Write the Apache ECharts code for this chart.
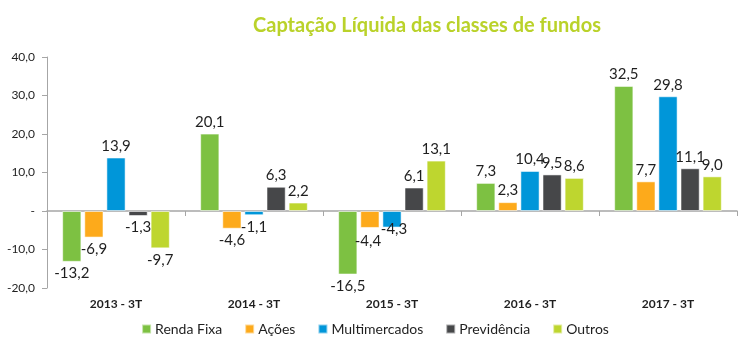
<!DOCTYPE html>
<html><head><meta charset="utf-8">
<script src="https://cdn.jsdelivr.net/npm/echarts@6/dist/echarts.min.js"></script>
<style>html,body{margin:0;padding:0;background:#fff}#c{width:750px;height:350px}</style>
</head><body><div id="c"></div>
<script>
const categories = ['2013 - 3T', '2014 - 3T', '2015 - 3T', '2016 - 3T', '2017 - 3T'];
const rendaFixa = [-13.2, 20.1, -16.5, 7.3, 32.5];
const acoes = [-6.9, -4.6, -4.4, 2.3, 7.7];
const multimercados = [13.9, -1.1, -4.3, 10.4, 29.8];
const previdencia = [-1.3, 6.3, 6.1, 9.5, 11.1];
const outros = [-9.7, 2.2, 13.1, 8.6, 9.0];
const seriesNames = ['Renda Fixa', 'Ações', 'Multimercados', 'Previdência', 'Outros'];
const seriesValues = [rendaFixa, acoes, multimercados, previdencia, outros];
const colors = ['#7DC142', '#FDAA1B', '#0096D9', '#464749', '#BED62F'];
// manual label nudges (series index -> category index -> [dx, dy]), as in the original
const labelNudges = { 2: { 2: [2, -10] }, 1: { 2: [-2, 2] } };
const FONT = 'Lato';
const fmt = v => Number(v).toFixed(1).replace('.', ',');

const chart = echarts.init(document.getElementById('c'));
chart.setOption({
  animation: false,
  textStyle: { fontFamily: FONT },
  title: {
    text: 'Captação Líquida das classes de fundos',
    left: 422, top: 11, textAlign: 'center',
    textStyle: { color: '#BAD22A', fontSize: 20, fontWeight: 'bold', fontFamily: FONT }
  },
  legend: {
    bottom: 9, left: 'center', itemWidth: 9, itemHeight: 9, itemGap: 22,
    icon: 'rect',
    textStyle: { fontSize: 14, color: '#1f1f1f', fontFamily: FONT, padding: [0, 0, 0, -1] },
    data: seriesNames
  },
  grid: { left: 47, right: 13, top: 57, bottom: 62 },
  xAxis: [{
    type: 'category', data: categories,
    axisLine: { onZero: true, lineStyle: { color: '#A6A6A6', width: 1.5 } },
    axisTick: { show: true, length: 5, lineStyle: { color: '#A6A6A6' } },
    axisLabel: { show: false }
  }, {
    type: 'category', data: categories, position: 'bottom',
    axisLine: { show: false }, axisTick: { show: false },
    axisLabel: { fontSize: 12, fontWeight: 'bold', color: '#1f1f1f', margin: 10, fontFamily: FONT }
  }],
  yAxis: {
    type: 'value', min: -20, max: 40, interval: 10,
    axisLine: { show: true, lineStyle: { color: '#A6A6A6' } },
    axisTick: { show: true, length: 5, lineStyle: { color: '#A6A6A6' } },
    splitLine: { show: false },
    axisLabel: { fontSize: 12, color: '#1f1f1f', margin: 12, fontFamily: FONT,
      formatter: v => v === 0 ? '-' : fmt(v) }
  },
  series: seriesNames.map((name, i) => ({
    name, type: 'bar', xAxisIndex: 0,
    barGap: '15%', barCategoryGap: '22%',
    itemStyle: { color: colors[i], borderColor: 'rgba(255,255,255,0.55)', borderWidth: 1 },
    label: { show: true, fontSize: 15, color: '#1f1f1f', fontFamily: FONT, distance: 4,
      formatter: p => fmt(p.value) },
    data: seriesValues[i].map((v, j) => {
      const nudge = (labelNudges[i] && labelNudges[i][j]) || [0, 0];
      return { value: v, label: { position: v < 0 ? 'bottom' : 'top', offset: nudge } };
    })
  }))
});
</script></body></html>
